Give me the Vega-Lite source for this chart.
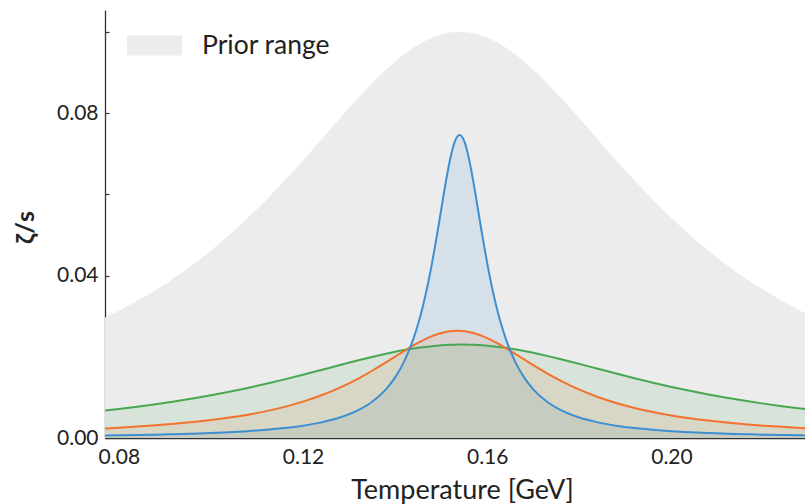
{
  "$schema": "https://vega.github.io/schema/vega-lite/v6.json",
  "width": 700,
  "height": 428,
  "autosize": "none",
  "padding": {"left": 105, "top": 10, "right": 0, "bottom": 66},
  "config": {
    "view": {"stroke": null},
    "font": "Lato",
    "axis": {
      "grid": false,
      "domainColor": "#333333",
      "domainWidth": 1.3,
      "tickColor": "#333333",
      "tickWidth": 1.2,
      "tickSize": -4,
      "labelFont": "Lato",
      "labelFontSize": 21,
      "labelColor": "#222222",
      "titleFont": "Lato",
      "titleColor": "#222222",
      "titleFontSize": 24
    }
  },
  "data": {
    "values": [
      {"T": 0.076, "prior": 0.02912, "blue": 0.000596, "orange": 0.00231, "green": 0.006638},
      {"T": 0.080, "prior": 0.03134, "blue": 0.000662, "orange": 0.002544, "green": 0.007143},
      {"T": 0.084, "prior": 0.03378, "blue": 0.000739, "orange": 0.002813, "green": 0.007697},
      {"T": 0.088, "prior": 0.03646, "blue": 0.00083, "orange": 0.003125, "green": 0.008307},
      {"T": 0.092, "prior": 0.03941, "blue": 0.000939, "orange": 0.003489, "green": 0.008976},
      {"T": 0.096, "prior": 0.04263, "blue": 0.001071, "orange": 0.003917, "green": 0.009709},
      {"T": 0.100, "prior": 0.04616, "blue": 0.001233, "orange": 0.004423, "green": 0.010511},
      {"T": 0.104, "prior": 0.05, "blue": 0.001434, "orange": 0.005025, "green": 0.011386},
      {"T": 0.108, "prior": 0.05416, "blue": 0.001689, "orange": 0.005747, "green": 0.012333},
      {"T": 0.112, "prior": 0.05863, "blue": 0.002016, "orange": 0.006617, "green": 0.013353},
      {"T": 0.116, "prior": 0.06339, "blue": 0.002448, "orange": 0.007672, "green": 0.014439},
      {"T": 0.120, "prior": 0.06838, "blue": 0.003034, "orange": 0.008954, "green": 0.015582},
      {"T": 0.124, "prior": 0.07353, "blue": 0.003851, "orange": 0.010514, "green": 0.016763},
      {"T": 0.128, "prior": 0.07872, "blue": 0.005041, "orange": 0.012401, "green": 0.017956},
      {"T": 0.132, "prior": 0.08378, "blue": 0.006858, "orange": 0.014646, "green": 0.019127},
      {"T": 0.135, "prior": 0.08738, "blue": 0.008916, "orange": 0.01656, "green": 0.019964},
      {"T": 0.138, "prior": 0.09071, "blue": 0.011986, "orange": 0.01863, "green": 0.020741},
      {"T": 0.140, "prior": 0.09273, "blue": 0.01492, "orange": 0.020055, "green": 0.021216},
      {"T": 0.142, "prior": 0.09455, "blue": 0.018939, "orange": 0.02147, "green": 0.021647},
      {"T": 0.144, "prior": 0.09615, "blue": 0.024531, "orange": 0.022824, "green": 0.022029},
      {"T": 0.145, "prior": 0.09686, "blue": 0.028119, "orange": 0.023458, "green": 0.022199},
      {"T": 0.146, "prior": 0.0975, "blue": 0.03235, "orange": 0.024051, "green": 0.022354},
      {"T": 0.147, "prior": 0.09808, "blue": 0.0373, "orange": 0.024596, "green": 0.022494},
      {"T": 0.148, "prior": 0.09858, "blue": 0.043005, "orange": 0.025083, "green": 0.022618},
      {"T": 0.149, "prior": 0.09901, "blue": 0.049397, "orange": 0.025503, "green": 0.022725},
      {"T": 0.150, "prior": 0.09936, "blue": 0.056238, "orange": 0.02585, "green": 0.022815},
      {"T": 0.151, "prior": 0.09964, "blue": 0.063023, "orange": 0.026117, "green": 0.022888},
      {"T": 0.152, "prior": 0.09984, "blue": 0.06897, "orange": 0.026297, "green": 0.022943},
      {"T": 0.153, "prior": 0.09996, "blue": 0.073108, "orange": 0.026389, "green": 0.022979},
      {"T": 0.154, "prior": 0.1, "blue": 0.0746, "orange": 0.026389, "green": 0.022998},
      {"T": 0.155, "prior": 0.09996, "blue": 0.073108, "orange": 0.026297, "green": 0.022998},
      {"T": 0.156, "prior": 0.09984, "blue": 0.06897, "orange": 0.026117, "green": 0.022979},
      {"T": 0.157, "prior": 0.09964, "blue": 0.063023, "orange": 0.02585, "green": 0.022943},
      {"T": 0.158, "prior": 0.09936, "blue": 0.056238, "orange": 0.025503, "green": 0.022888},
      {"T": 0.159, "prior": 0.09901, "blue": 0.049397, "orange": 0.025083, "green": 0.022815},
      {"T": 0.160, "prior": 0.09858, "blue": 0.043005, "orange": 0.024596, "green": 0.022725},
      {"T": 0.161, "prior": 0.09808, "blue": 0.0373, "orange": 0.024051, "green": 0.022618},
      {"T": 0.162, "prior": 0.0975, "blue": 0.03235, "orange": 0.023458, "green": 0.022494},
      {"T": 0.163, "prior": 0.09686, "blue": 0.028119, "orange": 0.022824, "green": 0.022354},
      {"T": 0.164, "prior": 0.09615, "blue": 0.024531, "orange": 0.022159, "green": 0.022199},
      {"T": 0.166, "prior": 0.09455, "blue": 0.018939, "orange": 0.020766, "green": 0.021844},
      {"T": 0.168, "prior": 0.09273, "blue": 0.01492, "orange": 0.019341, "green": 0.021437},
      {"T": 0.170, "prior": 0.09071, "blue": 0.011986, "orange": 0.017926, "green": 0.020983},
      {"T": 0.173, "prior": 0.08738, "blue": 0.008916, "orange": 0.015902, "green": 0.02023},
      {"T": 0.176, "prior": 0.08378, "blue": 0.006858, "orange": 0.014051, "green": 0.019411},
      {"T": 0.180, "prior": 0.07872, "blue": 0.005041, "orange": 0.011896, "green": 0.018253},
      {"T": 0.184, "prior": 0.07353, "blue": 0.003851, "orange": 0.010096, "green": 0.017061},
      {"T": 0.188, "prior": 0.06838, "blue": 0.003034, "orange": 0.008609, "green": 0.015874},
      {"T": 0.192, "prior": 0.06339, "blue": 0.002448, "orange": 0.007388, "green": 0.01472},
      {"T": 0.196, "prior": 0.05863, "blue": 0.002016, "orange": 0.006383, "green": 0.013618},
      {"T": 0.200, "prior": 0.05416, "blue": 0.001689, "orange": 0.005553, "green": 0.012581},
      {"T": 0.204, "prior": 0.05, "blue": 0.001434, "orange": 0.004864, "green": 0.011616},
      {"T": 0.208, "prior": 0.04616, "blue": 0.001233, "orange": 0.004288, "green": 0.010723},
      {"T": 0.212, "prior": 0.04263, "blue": 0.001071, "orange": 0.003803, "green": 0.009903},
      {"T": 0.216, "prior": 0.03941, "blue": 0.000939, "orange": 0.003393, "green": 0.009153},
      {"T": 0.220, "prior": 0.03646, "blue": 0.00083, "orange": 0.003042, "green": 0.008468},
      {"T": 0.224, "prior": 0.03378, "blue": 0.000739, "orange": 0.002742, "green": 0.007844},
      {"T": 0.228, "prior": 0.03134, "blue": 0.000662, "orange": 0.002482, "green": 0.007276},
      {"T": 0.232, "prior": 0.02912, "blue": 0.000596, "orange": 0.002257, "green": 0.00676}
    ]
  },
  "encoding": {
    "x": {
      "field": "T",
      "type": "quantitative",
      "scale": {"domain": [0.077, 0.229], "nice": false, "zero": false},
      "axis": {
        "title": "Temperature [GeV]",
        "values": [0.08, 0.10, 0.12, 0.14, 0.16, 0.18, 0.20, 0.22],
        "labelExpr": "round(datum.value*100) % 4 == 0 ? format(datum.value, '.2f') : ''",
        "labelPadding": 12,
        "labelFlush": false,
        "labelOverlap": false,
        "titleX": 357,
        "titleY": 60,
        "titleFontSize": 27,
        "titleBaseline": "alphabetic",
        "titleFontWeight": "normal"
      }
    }
  },
  "layer": [
    {
      "mark": {"type": "area", "clip": true, "interpolate": "monotone", "opacity": 1},
      "encoding": {
        "y": {
          "field": "prior",
          "type": "quantitative",
          "scale": {"domain": [0, 0.1054], "nice": false},
          "axis": {
            "title": "ζ/s",
            "values": [0, 0.02, 0.04, 0.06, 0.08, 0.10],
            "labelExpr": "round(datum.value*100) % 4 == 0 ? format(datum.value, '.2f') : ''",
            "labelPadding": 11,
            "titleFontWeight": "bold",
            "titleFontSize": 25,
            "titleX": -72,
            "titleY": 217,
            "titleBaseline": "alphabetic",
            "titleAlign": "center"
          }
        },
        "color": {
          "datum": "Prior range",
          "scale": {"range": ["#ececec"]},
          "legend": {
            "title": null,
            "orient": "none",
            "legendX": 22,
            "legendY": 8,
            "padding": 0,
            "symbolType": "M-1,-0.36H1V0.36H-1Z",
            "symbolSize": 3025,
            "symbolStrokeWidth": 0,
            "symbolOpacity": 1,
            "labelFont": "Lato",
            "labelFontSize": 26.5,
            "labelColor": "#222222",
            "labelOffset": 20
          }
        }
      }
    },
    {
      "mark": {"type": "area", "clip": true, "interpolate": "monotone", "color": "#3d8fd1", "opacity": 0.12},
      "encoding": {"y": {"field": "blue", "type": "quantitative"}}
    },
    {
      "mark": {"type": "area", "clip": true, "interpolate": "monotone", "color": "#f2722e", "opacity": 0.12},
      "encoding": {"y": {"field": "orange", "type": "quantitative"}}
    },
    {
      "mark": {"type": "area", "clip": true, "interpolate": "monotone", "color": "#48a852", "opacity": 0.12},
      "encoding": {"y": {"field": "green", "type": "quantitative"}}
    },
    {
      "mark": {"type": "line", "clip": true, "interpolate": "monotone", "color": "#48a852", "strokeWidth": 2},
      "encoding": {"y": {"field": "green", "type": "quantitative"}}
    },
    {
      "mark": {"type": "line", "clip": true, "interpolate": "monotone", "color": "#f2722e", "strokeWidth": 2},
      "encoding": {"y": {"field": "orange", "type": "quantitative"}}
    },
    {
      "mark": {"type": "line", "clip": true, "interpolate": "monotone", "color": "#3d8fd1", "strokeWidth": 2},
      "encoding": {"y": {"field": "blue", "type": "quantitative"}}
    }
  ]
}
